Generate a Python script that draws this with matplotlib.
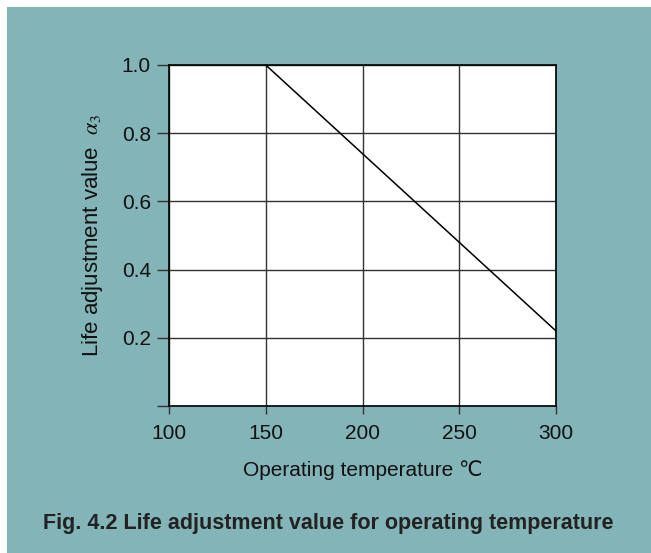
import numpy as np
import matplotlib.pyplot as plt
import matplotlib.patches as mpatches

# operating temperature (deg C) vs life adjustment value a3
temp = [150, 300]
a3 = [1.0, 0.22]

x_ticks = [100, 150, 200, 250, 300]
y_ticks = [0.0, 0.2, 0.4, 0.6, 0.8, 1.0]
y_tick_labels = ['', '0.2', '0.4', '0.6', '0.8', '1.0']

bg = '#82b4b8'
plt.rcParams['font.family'] = ['Liberation Sans', 'DejaVu Sans']
plt.rcParams['mathtext.fontset'] = 'stix'

fig = plt.figure(figsize=(6.51, 5.53), dpi=100)
fig.patch.set_facecolor('white')
# teal panel behind everything, white margin top/left
fig.patches.append(mpatches.Rectangle((7 / 651, 0), 1 - 7 / 651, 1 - 7 / 553,
                                      transform=fig.transFigure, facecolor=bg,
                                      edgecolor='none', zorder=-10))

ax = fig.add_axes([169 / 651, 1 - 406 / 553, 387 / 651, 341 / 553])
ax.set_facecolor('white')
ax.plot(temp, a3, color='black', lw=1.1, zorder=3)

ax.set_xlim(100, 300)
ax.set_ylim(0, 1.0)
ax.set_xticks(x_ticks)
ax.set_yticks(y_ticks)
ax.set_yticklabels(y_tick_labels)
ax.grid(True, color='#333333', lw=1.0)
ax.tick_params(axis='both', direction='out', labelsize=15, color='#333333', width=1.0,
               labelcolor='#111111')
ax.tick_params(axis='y', length=9, pad=4)
ax.tick_params(axis='x', length=6, pad=7)
for s in ax.spines.values():
    s.set_color('black')
    s.set_linewidth(1.2)

ax.set_xlabel('Operating temperature \u2103', fontsize=15, labelpad=12, color='#111111')
ax.set_ylabel('Life adjustment value  $\\mathit{\\alpha}_3$', fontsize=16, labelpad=12,
              color='#111111')

fig.text(0.5 + 3 / 651, 1 - 523 / 553, 'Fig. 4.2 Life adjustment value for operating temperature',
         ha='center', va='center', fontsize=15.5, fontweight='bold', color='#222222')

fig.savefig('out.png', dpi=100, facecolor=fig.get_facecolor())
